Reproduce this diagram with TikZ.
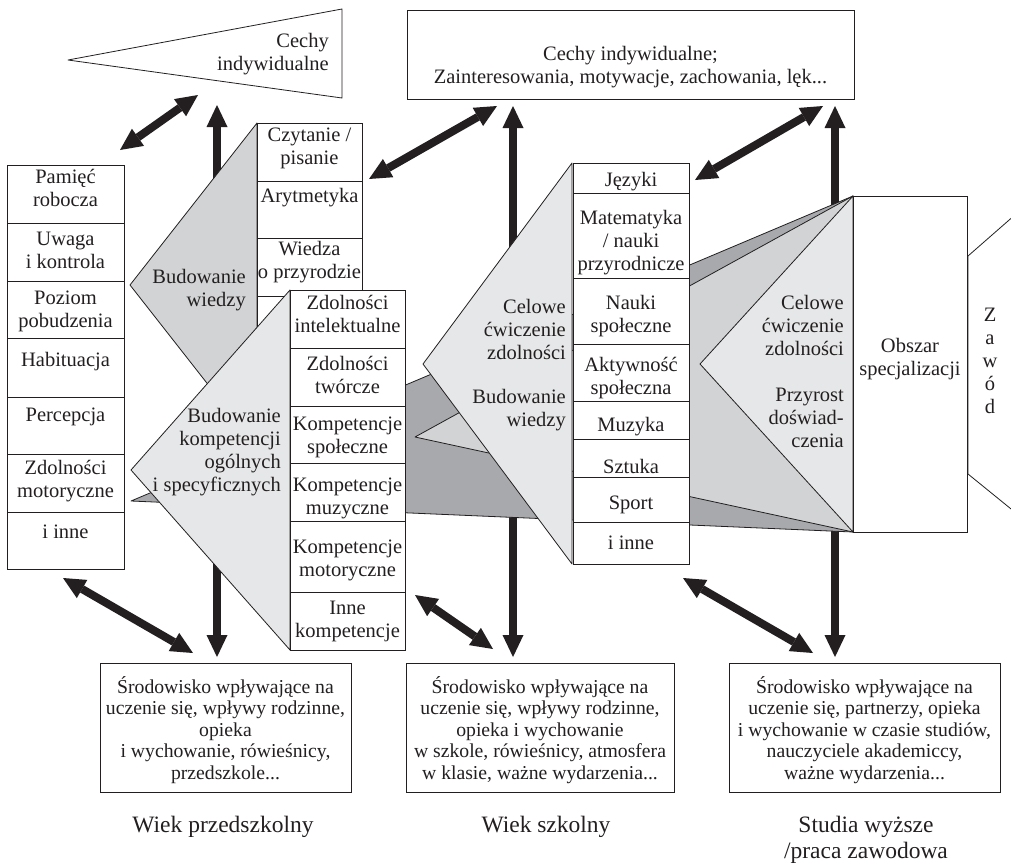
\documentclass[tikz,border=0pt]{standalone}
\usepackage{fontspec}
\setmainfont{Liberation Serif}
\usetikzlibrary{arrows.meta}
\definecolor{fdark}{HTML}{A7A9AC}
\definecolor{fmed}{HTML}{D1D3D4}
\definecolor{flight}{HTML}{E6E7E8}
\definecolor{lc}{HTML}{231F20}
\newcommand\fsm{\fontsize{20.5}{23}\selectfont}
\newcommand\fsb{\fontsize{19.7}{21.5}\selectfont}
\newcommand\fsl{\fontsize{23.5}{26}\selectfont}
\begin{document}
\begin{tikzpicture}[x=1pt,y=-1pt,
 cell/.style={draw=lc,fill=white,line width=1pt,inner sep=0pt,outer sep=0pt},
 shp/.style={draw=lc,line width=0.8pt,line join=round},
 txt/.style={inner sep=0pt,align=center,font=\fsm,text=lc},
 rtxt/.style={inner sep=0pt,align=right,font=\fsm,anchor=east,text=lc},
 btxt/.style={inner sep=0pt,align=center,font=\fsb,text=lc},
 ltxt/.style={inner sep=0pt,align=center,font=\fsl,text=lc},
 bigtip/.tip={Triangle[length=22pt,width=21pt,line width=0pt]},
 arr/.style={line width=8pt,draw=lc,bigtip-bigtip},
]
\clip (0,0) rectangle (1011,865);
\fill[white] (0,0) rectangle (1011,865);

% arrow end points
\coordinate (a1s) at (120,150); \coordinate (a1e) at (198,95);
\coordinate (a3s) at (369,179); \coordinate (a3e) at (497,106);
\coordinate (a4s) at (695,180); \coordinate (a4e) at (823,106);
\coordinate (a5s) at (63,578);  \coordinate (a5e) at (193,653);
\coordinate (a6s) at (415,595); \coordinate (a6e) at (493,649);
\coordinate (a7s) at (683,578); \coordinate (a7e) at (813,653);
\coordinate (v1t) at (217,105); \coordinate (v1b) at (217,657);
\coordinate (v2t) at (513,106); \coordinate (v2b) at (513,657);
\coordinate (v3t) at (835,106); \coordinate (v3b) at (835,657);

\draw[arr] (v1b) -- (v1t);
\draw[arr] (v2b) -- (v2t);
\draw[arr] (v3b) -- (v3t);
\draw[arr] (a1s) -- (a1e);
\draw[arr] (a3s) -- (a3e);
\draw[arr] (a4s) -- (a4e);
\draw[arr] (a5s) -- (a5e);
\draw[arr] (a6s) -- (a6e);
\draw[arr] (a7s) -- (a7e);

% fans
\coordinate (oTL) at (853,196); \coordinate (oBL) at (853,532);
\filldraw[shp,fill=fdark] (131,501) -- (oTL) -- (oBL) -- cycle;
\filldraw[shp,fill=fmed] (415,437) -- (oTL) -- (oBL) -- cycle;

% column 1
\node[cell,minimum width=117pt,minimum height=58pt] (c11) at (65.5,194) {};
\node[cell,minimum width=117pt,minimum height=58pt] (c12) at (65.5,252) {};
\node[cell,minimum width=117pt,minimum height=57pt] (c13) at (65.5,309.5) {};
\node[cell,minimum width=117pt,minimum height=59pt] (c14) at (65.5,367.5) {};
\node[cell,minimum width=117pt,minimum height=57pt] (c15) at (65.5,425.5) {};
\node[cell,minimum width=117pt,minimum height=58pt] (c16) at (65.5,483) {};
\node[cell,minimum width=117pt,minimum height=57pt] (c17) at (65.5,540.5) {};
\node[txt] (t11) at (65.5,188) {Pamięć\\robocza};
\node[txt] (t12) at (65.5,250) {Uwaga\\i kontrola};
\node[txt] (t13) at (65.5,311.5) {Poziom\\pobudzenia};
\node[txt] (t14) at (65.5,362) {Habituacja};
\node[txt] (t15) at (65.5,417) {Percepcja};
\node[txt] (t16) at (65.5,481) {Zdolności\\motoryczne};
\node[txt] (t17) at (65.5,532) {i inne};

% column 2
\filldraw[shp,fill=fmed] (257,123) -- (130,285) -- (257,447) -- cycle;
\node[cell,minimum width=105pt,minimum height=58pt] (c21) at (309.5,152) {};
\node[cell,minimum width=105pt,minimum height=57pt] (c22) at (309.5,209.5) {};
\node[cell,minimum width=105pt,minimum height=58pt] (c23) at (309.5,267) {};
\node[cell,minimum width=105pt,minimum height=151pt] (c24) at (309.5,371.5) {};
\node[txt] (t21) at (309.5,148) {Czytanie /\\pisanie};
\node[txt] (t22) at (309.5,198) {Arytmetyka};
\node[txt] (t23) at (309.5,262.5) {Wiedza\\o przyrodzie};
\node[rtxt] (bw) at (246,290) {Budowanie\\wiedzy};

% column 3
\filldraw[shp,fill=flight] (290,290) -- (131,470) -- (290,650) -- cycle;
\node[cell,minimum width=115pt,minimum height=58pt] (c31) at (347.5,319) {};
\node[cell,minimum width=115pt,minimum height=58pt] (c32) at (347.5,377) {};
\node[cell,minimum width=115pt,minimum height=57pt] (c33) at (347.5,434.5) {};
\node[cell,minimum width=115pt,minimum height=58pt] (c34) at (347.5,492) {};
\node[cell,minimum width=115pt,minimum height=71pt] (c35) at (347.5,556.5) {};
\node[cell,minimum width=115pt,minimum height=58pt] (c36) at (347.5,621) {};
\node[txt] (t31) at (347.5,313.5) {Zdolności\\intelektualne};
\node[txt] (t32) at (347.5,375) {Zdolności\\twórcze};
\node[txt] (t33) at (347.5,437) {Kompetencje\\społeczne};
\node[txt] (t34) at (347.5,498.5) {Kompetencje\\muzyczne};
\node[txt] (t35) at (347.5,560.5) {Kompetencje\\motoryczne};
\node[txt] (t36) at (347.5,621.5) {Inne\\kompetencje};
\node[rtxt] (bk) at (281,452.5) {Budowanie\\kompetencji\\ogólnych\\i specyficznych};

% column 4
\filldraw[shp,fill=flight] (572,163) -- (423,364) -- (572,564) -- cycle;
\node[cell,minimum width=116pt,minimum height=30pt] (c41) at (631,178) {};
\node[cell,minimum width=116pt,minimum height=85pt] (c42) at (631,235.5) {};
\node[cell,minimum width=116pt,minimum height=66pt] (c43) at (631,311) {};
\node[cell,minimum width=116pt,minimum height=57pt] (c44) at (631,372.5) {};
\node[cell,minimum width=116pt,minimum height=38pt] (c45) at (631,420) {};
\node[cell,minimum width=116pt,minimum height=38pt] (c46) at (631,458) {};
\node[cell,minimum width=116pt,minimum height=45pt] (c47) at (631,499.5) {};
\node[cell,minimum width=116pt,minimum height=42pt] (c48) at (631,543) {};
\node[txt] (t41) at (631,182) {Języki};
\node[txt] (t42) at (631,243) {Matematyka\\/ nauki\\przyrodnicze};
\node[txt] (t43) at (631,316) {Nauki\\społeczne};
\node[txt] (t44) at (631,378) {Aktywność\\społeczna};
\node[txt] (t45) at (631,427) {Muzyka};
\node[txt] (t46) at (631,466) {Sztuka};
\node[txt] (t47) at (631,505) {Sport};
\node[txt] (t48) at (631,543) {i inne};
\node[rtxt] (cw1) at (566,329) {Celowe\\ćwiczenie\\zdolności};
\node[rtxt] (cw2) at (566,410) {Budowanie\\wiedzy};

% right part
\filldraw[shp,fill=flight] (oTL) -- (700,364) -- (oBL) -- cycle;
\node[cell,minimum width=114pt,minimum height=336pt] (obs) at (910,364) {};
\node[rtxt] (cw3) at (844,325) {Celowe\\ćwiczenie\\zdolności};
\node[rtxt] (pd) at (844,418) {Przyrost\\doświad-\\czenia};
\node[txt] (obt) at (910,359.5) {Obszar\\specjalizacji};
\filldraw[shp,fill=white] (1016,214) -- (968,256) -- (968,474) -- (1016,513) -- cycle;
\node[txt] (zt) at (990,360.5) {Z\\a\\w\\ó\\d};

% top
\filldraw[shp,fill=white] (68,60) -- (342,9) -- (342,98) -- cycle;
\node[rtxt] (tlt) at (329,54) {Cechy\\indywidualne};
\node[cell,minimum width=447pt,minimum height=89pt] (tb) at (630.5,54.5) {};
\node[txt] (tbt) at (630.5,67.5) {Cechy indywidualne;\\Zainteresowania, motywacje, zachowania, lęk...};

% bottom
\node[cell,minimum width=251pt,minimum height=129pt] (b1) at (225.5,727.5) {};
\node[cell,minimum width=268pt,minimum height=129pt] (b2) at (540,727.5) {};
\node[cell,minimum width=271pt,minimum height=129pt] (b3) at (864.5,727.5) {};
\node[btxt] (b1t) at (225.5,730) {Środowisko wpływające na\\uczenie się, wpływy rodzinne,\\opieka\\i wychowanie, rówieśnicy,\\przedszkole...};
\node[btxt] (b2t) at (540,730) {Środowisko wpływające na\\uczenie się, wpływy rodzinne,\\opieka i wychowanie\\w szkole, rówieśnicy, atmosfera\\w klasie, ważne wydarzenia...};
\node[btxt] (b3t) at (864.5,730) {Środowisko wpływające na\\uczenie się, partnerzy, opieka\\i wychowanie w czasie studiów,\\nauczyciele akademiccy,\\ważne wydarzenia...};
\node[ltxt] (l1) at (223,827) {Wiek przedszkolny};
\node[ltxt] (l2) at (546,827) {Wiek szkolny};
\node[ltxt] (l3) at (866,840) {Studia wyższe\\/praca zawodowa};
\end{tikzpicture}
\end{document}
